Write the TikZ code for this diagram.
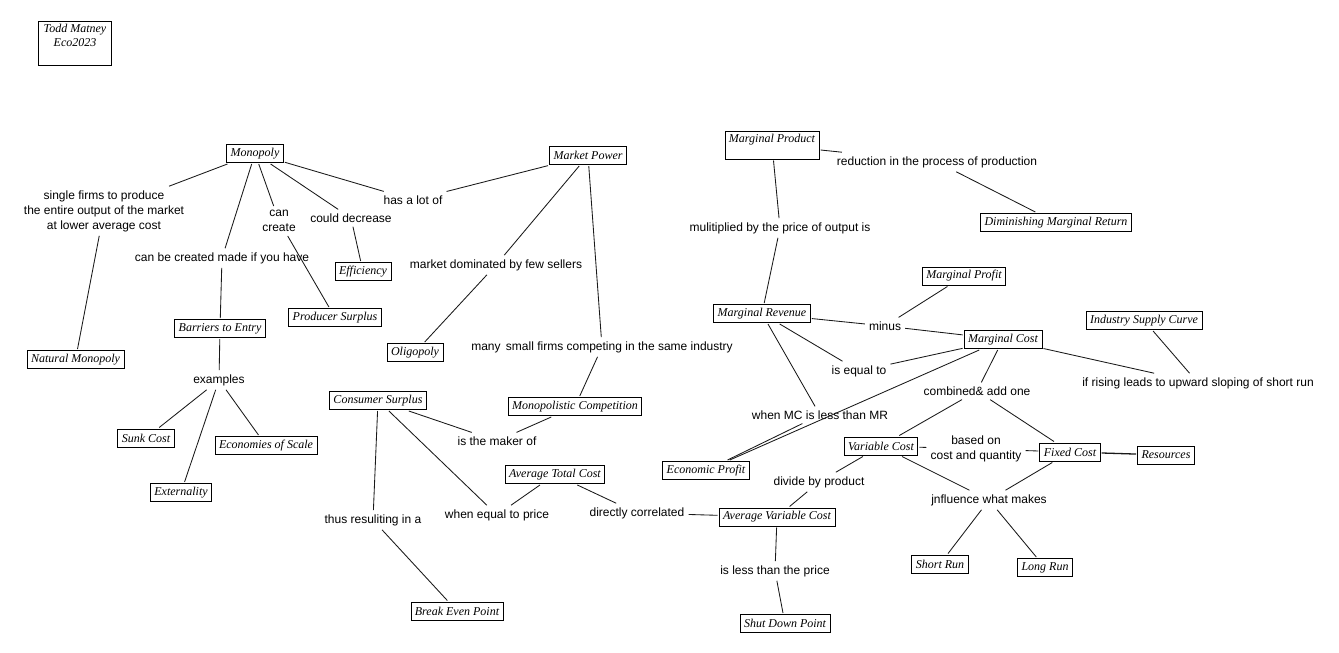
\documentclass[tikz,border=0pt]{standalone}
\usepackage{fontspec}
\setmainfont{Liberation Serif}
\newfontfamily\labelfont{Liberation Sans}
\begin{document}
\begin{tikzpicture}[x=1pt,y=-1pt,
  concept/.style={draw=black, line width=0.8pt, font=\fontsize{12}{14}\selectfont\itshape,
    inner xsep=4pt, inner ysep=2pt, minimum height=18pt, outer sep=1.5pt},
  phrase/.style={font=\labelfont\fontsize{12}{15}\selectfont, align=center, inner sep=4pt},
  link/.style={draw=black!90, line width=0.85pt}]
\useasboundingbox[fill=white] (0,0) rectangle (1339,653);

% concepts
\node[concept, anchor=north west, inner xsep=1pt, inner ysep=3pt] (todd) at (37,20)
  {\parbox[t][38pt][t]{71pt}{\centering Todd Matney\\Eco2023}};
\node[concept] (mono) at (255,153.5) {Monopoly};
\node[concept] (mpow) at (588,155.5) {Market Power};
\node[concept, text height=9pt, text depth=15pt] (mprod) at (772,145) {Marginal Product};
\node[concept] (dmr) at (1056,222.5) {Diminishing Marginal Return};
\node[concept] (mprofit) at (964,276) {Marginal Profit};
\node[concept] (isc) at (1144,320.5) {Industry Supply Curve};
\node[concept] (mrev) at (762,313.5) {Marginal Revenue};
\node[concept] (mcost) at (1003,339.5) {Marginal Cost};
\node[concept] (eff) at (363,271.5) {Efficiency};
\node[concept] (prods) at (335,317.5) {Producer Surplus};
\node[concept] (bar) at (220,328.5) {Barriers to Entry};
\node[concept] (natm) at (75.5,359.5) {Natural Monopoly};
\node[concept] (olig) at (415,352.5) {Oligopoly};
\node[concept] (cons) at (378,400.5) {Consumer Surplus};
\node[concept] (monoc) at (575,406.5) {Monopolistic Competition};
\node[concept] (sunk) at (146,438) {Sunk Cost};
\node[concept] (econs) at (266,445.5) {Economies of Scale};
\node[concept] (ext) at (181,492.5) {Externality};
\node[concept] (atc) at (555,474.5) {Average Total Cost};
\node[concept] (ecop) at (706,470.5) {Economic Profit};
\node[concept] (varc) at (881,446) {Variable Cost};
\node[concept] (fixc) at (1070,452) {Fixed Cost};
\node[concept] (res) at (1166,455) {Resources};
\node[concept] (avc) at (777,517) {Average Variable Cost};
\node[concept] (srun) at (940,564) {Short Run};
\node[concept] (lrun) at (1045,567.5) {Long Run};
\node[concept] (bep) at (457,611) {Break Even Point};
\node[concept] (sdp) at (785,623.5) {Shut Down Point};

% linking phrases
\node[phrase] (lsingle) at (104,211) {single firms to produce\\the entire output of the market\\at lower average cost};
\node[phrase] (lcan) at (279,221) {can\\create};
\node[phrase] (lcould) at (351,218) {could decrease};
\node[phrase] (lhas) at (413,200) {has a lot of};
\node[phrase] (lcreated) at (222,258) {can be created made if you have};
\node[phrase] (lmarket) at (496,265) {market dominated by few sellers};
\node[phrase] (lmult) at (780,228) {mulitiplied by the price of output is};
\node[phrase] (lred) at (937,162) {reduction in the process of production};
\node[phrase] (lminus) at (885,326) {minus};
\node[phrase] (lequal) at (859,371) {is equal to};
\node[phrase] (lwhen) at (820,415) {when MC is less than MR};
\node[phrase] (lcomb) at (977,391) {combined\& add one};
\node[phrase] (lrising) at (1198,383) {if rising leads to upward sloping of short run};
\node[phrase] (lmany) at (602,347) {many\hspace{0.45em}small firms competing in the same industry};
\node[phrase] (lex) at (219,380) {examples};
\node[phrase] (lmaker) at (497,441) {is the maker of};
\node[phrase] (lthus) at (373,520) {thus resuliting in a};
\node[phrase] (lwheneq) at (497,515) {when equal to price};
\node[phrase] (ldir) at (637,513) {directly correlated};
\node[phrase] (lbased) at (976,449) {based on\\cost and quantity};
\node[phrase] (ldiv) at (819,482) {divide by product};
\node[phrase] (linfl) at (989,500) {jnfluence what makes};
\node[phrase] (lless) at (775,571) {is less than the price};

% connectors
\draw[link] (mono) -- (lsingle);
\draw[link] (lsingle) -- (natm);
\draw[link] (mono) -- (lcreated);
\draw[link] (lcreated) -- (bar);
\draw[link] (mono) -- (lcan);
\draw[link] (lcan) -- (prods);
\draw[link] (mono) -- (lcould);
\draw[link] (lcould) -- (eff);
\draw[link] (mono) -- (lhas);
\draw[link] (lhas) -- (mpow);
\draw[link] (mpow) -- (lmarket);
\draw[link] (lmarket) -- (olig);
\draw[link] (mpow) -- (lmany);
\draw[link] (lmany) -- (monoc);
\draw[link] (monoc) -- (lmaker);
\draw[link] (cons) -- (lmaker);
\draw[link] (cons) -- (lthus);
\draw[link] (lthus) -- (bep);
\draw[link] (cons) -- (lwheneq);
\draw[link] (atc) -- (lwheneq);
\draw[link] (atc) -- (ldir);
\draw[link] (ldir) -- (avc);
\draw[link] (avc) -- (lless);
\draw[link] (lless) -- (sdp);
\draw[link] (avc) -- (ldiv);
\draw[link] (varc) -- (ldiv);
\draw[link] (mprod) -- (lmult);
\draw[link] (lmult) -- (mrev);
\draw[link] (mprod) -- (lred);
\draw[link] (lred) -- (dmr);
\draw[link] (mprofit) -- (lminus);
\draw[link] (mrev) -- (lminus);
\draw[link] (lminus) -- (mcost);
\draw[link] (mrev) -- (lequal);
\draw[link] (lequal) -- (mcost);
\draw[link] (mrev) -- (lwhen);
\draw[link] (lwhen) -- (ecop);
\draw[link] (mcost) -- (ecop);
\draw[link] (mcost) -- (lcomb);
\draw[link] (lcomb) -- (varc);
\draw[link] (lcomb) -- (fixc);
\draw[link] (varc) -- (lbased);
\draw[link] (lbased) -- (fixc);
\draw[link, line width=1.3pt] (fixc) -- (res);
\draw[link] (varc) -- (linfl);
\draw[link] (fixc) -- (linfl);
\draw[link] (linfl) -- (srun);
\draw[link] (linfl) -- (lrun);
\draw[link] (mcost) -- (lrising);
\draw[link] (isc) -- (lrising);
\draw[link] (bar) -- (lex);
\draw[link] (lex) -- (sunk);
\draw[link] (lex) -- (ext);
\draw[link] (lex) -- (econs);
\end{tikzpicture}
\end{document}
